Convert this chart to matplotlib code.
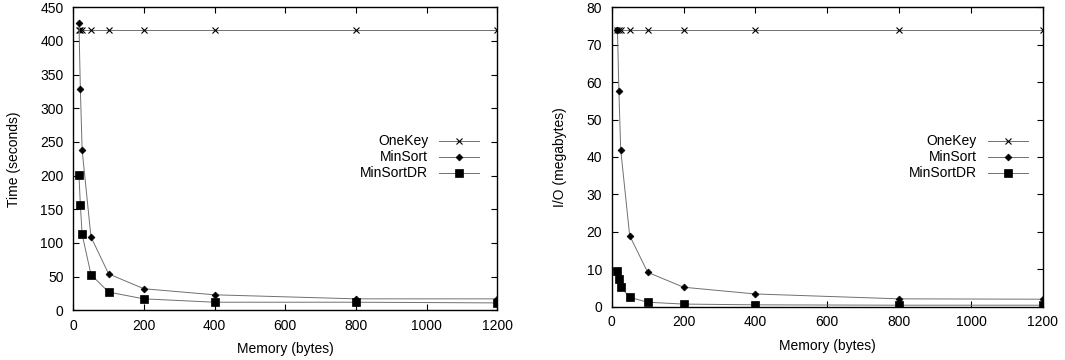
import matplotlib
matplotlib.use("Agg")
import matplotlib.pyplot as plt
from matplotlib.lines import Line2D

plt.rcParams['font.family'] = ['Liberation Sans', 'DejaVu Sans']
plt.rcParams['font.size'] = 10

# memory sizes (bytes)
memory = [16, 20, 25, 50, 100, 200, 400, 800, 1200]

# time (seconds)
time_onekey = [417, 417, 417, 417, 417, 417, 417, 417, 417]
time_minsort = [426, 328, 238, 109, 54, 32, 23, 17, 17]
time_minsortdr = [201, 156, 113, 53, 27, 17, 12, 12, 11]

# I/O (megabytes)
io_onekey = [74, 74, 74, 74, 74, 74, 74, 74, 74]
io_minsort = [74, 57.7, 42, 19, 9.2, 5.2, 3.4, 2.1, 2.0]
io_minsortdr = [9.5, 7.3, 5.3, 2.5, 1.2, 0.7, 0.5, 0.4, 0.4]

names = ["OneKey", "MinSort", "MinSortDR"]
styles = [dict(marker='x', ms=5, mew=0.8),
          dict(marker='D', ms=3.5, mew=0.5),
          dict(marker='s', ms=5.5, mew=0.5)]
line_color = '#707070'

fig = plt.figure(figsize=(10.65, 3.6), dpi=100)
ax1 = fig.add_axes([73.3 / 1065, 1 - 310.3 / 360, (497.3 - 73.3) / 1065, 303 / 360])
ax2 = fig.add_axes([611.7 / 1065, 1 - 306.7 / 360, (1043 - 611.7) / 1065, 299.4 / 360])


def draw(ax, series, ylim, yticks, ylabel, key_x, key_y, ylabelpad):
    for ys, st in zip(series, styles):
        ax.plot(memory, ys, color=line_color, lw=0.7,
                mfc='black', mec='black', **st)
    ax.set_xlim(0, 1200)
    ax.set_ylim(*ylim)
    ax.set_xticks(range(0, 1201, 200))
    ax.set_yticks(yticks)
    ax.tick_params(direction='in', top=True, right=True, length=4, width=0.8)
    ax.tick_params(axis='x', pad=6)
    ax.tick_params(axis='y', pad=7)
    for s in ax.spines.values():
        s.set_linewidth(1.0)
    ax.set_xlabel("Memory (bytes)", labelpad=7)
    ax.set_ylabel(ylabel, labelpad=ylabelpad)
    # gnuplot-style key: right-aligned labels, sample to the right
    for i, (name, st) in enumerate(zip(names, styles)):
        yk = key_y - i * 0.053
        ax.text(key_x, yk, name, transform=ax.transAxes, ha='right', va='center')
        ax.add_line(Line2D([key_x + 0.026, key_x + 0.12], [yk, yk], transform=ax.transAxes,
                           color=line_color, lw=0.7))
        ax.add_line(Line2D([key_x + 0.072], [yk], transform=ax.transAxes,
                           mfc='black', mec='black', color='black', **st))


draw(ax1, [time_onekey, time_minsort, time_minsortdr], (0, 450),
     range(0, 451, 50), "Time (seconds)", 0.837, 0.558, 14)
draw(ax2, [io_onekey, io_minsort, io_minsortdr], (0, 80),
     range(0, 81, 10), "I/O (megabytes)", 0.846, 0.552, 14)

fig.savefig("out.png", dpi=100)
